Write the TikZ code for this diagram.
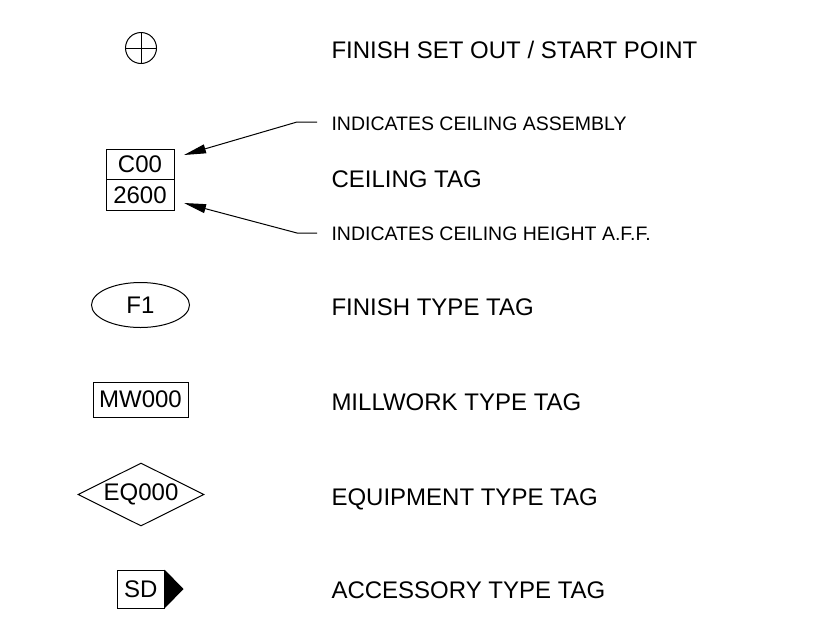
\documentclass[tikz,border=0pt]{standalone}
\usepackage{fontspec}
\setmainfont{Liberation Sans}
\usetikzlibrary{arrows.meta,shapes.geometric}
\begin{document}
\begin{tikzpicture}[x=1pt,y=-1pt,
  line width=1pt,
  big/.style={font=\fontsize{24}{28}\selectfont, inner sep=0pt},
  small/.style={font=\fontsize{19.5}{23}\selectfont, inner sep=0pt},
  lbl/.style={big, anchor=base west},
  note/.style={small, anchor=base west},
  tag/.style={big, draw, inner sep=0pt},
  lead/.style={-{Triangle[length=22pt,width=9pt]}},
]
\useasboundingbox (0,0) rectangle (827,619);

% start point symbol
\node[circle, draw, minimum size=31pt, inner sep=0pt] (sp) at (141,48) {};
\draw (sp.north) -- (sp.south) (sp.west) -- (sp.east);
\node[lbl] (t1) at (331,58) {FINISH SET OUT / START POINT};

% ceiling tag
\node[tag, minimum width=68pt, minimum height=30.5pt] (c00) at (140,164.25) {C00};
\node[tag, minimum width=68pt, minimum height=30.5pt] (c2600) at (140,194.75) {2600};
\node[lbl] (t2) at (331,187) {CEILING TAG};
\node[note] (n1) at (331,130) {INDICATES CEILING ASSEMBLY};
\node[note] (n2) at (331,240) {INDICATES CEILING HEIGHT A.F.F.};
\coordinate (a1) at (317,122);
\coordinate (b1) at (297,122);
\coordinate (tip1) at (184,155);
\coordinate (a2) at (317,233);
\coordinate (b2) at (297,233);
\coordinate (tip2) at (184,203);
\draw[lead] (a1) -- (b1) -- (tip1);
\draw[lead] (a2) -- (b2) -- (tip2);

% finish type tag
\node[tag, ellipse, minimum width=98pt, minimum height=45pt] (f1) at (140.5,305) {F1};
\node[lbl] (t3) at (331,315) {FINISH TYPE TAG};

% millwork type tag
\node[tag, minimum width=95pt, minimum height=35pt] (mw) at (140.5,399.5) {MW000};
\node[lbl] (t4) at (331,410) {MILLWORK TYPE TAG};

% equipment type tag
\node[tag, diamond, aspect=2, minimum width=126pt, minimum height=63pt] (eq) at (141,494.5) {EQ000};
\node[lbl] (t5) at (331,505) {EQUIPMENT TYPE TAG};

% accessory type tag
\node[tag, minimum width=46.5pt, minimum height=38pt] (sd) at (140.75,589) {SD};
\fill (sd.north east) -- ([xshift=19pt]sd.east) -- (sd.south east) -- cycle;
\node[lbl] (t6) at (331,598) {ACCESSORY TYPE TAG};
\end{tikzpicture}
\end{document}
